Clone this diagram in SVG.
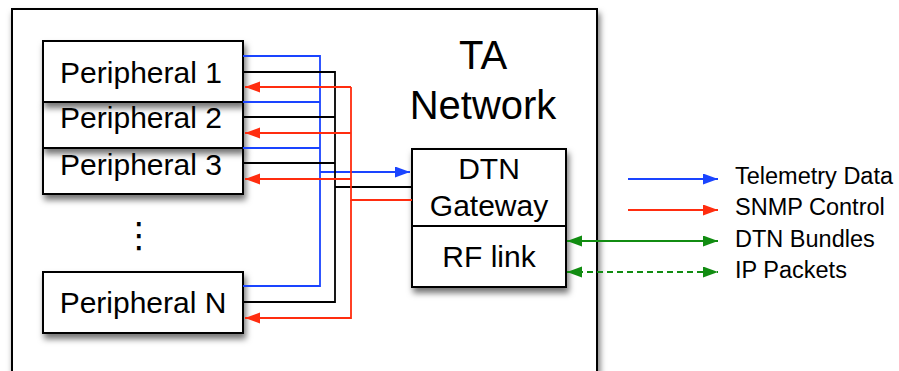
<svg xmlns="http://www.w3.org/2000/svg" width="899" height="371" viewBox="0 0 899 371">
<style>
.box{fill:#fff;stroke:#000;stroke-width:2}
.lbl{font-family:"Liberation Sans",Arial,Helvetica,sans-serif;fill:#000}
.big{font-size:30px;text-anchor:middle}
.ta{font-size:40px;text-anchor:middle}
.leg{font-size:23.5px}
.c{fill:none;stroke-width:1.8}
.b{stroke:#1a44ff}
.r{stroke:#ff2d0f}
.k{stroke:#000}
.g{stroke:#118c11}
</style>
<defs>
<filter id="sh" x="-20%" y="-20%" width="140%" height="160%">
<feDropShadow dx="2" dy="5" stdDeviation="3" flood-color="#000" flood-opacity="0.55"/>
</filter>
<marker id="ab" markerUnits="userSpaceOnUse" markerWidth="16" markerHeight="12" refX="15" refY="5.5" orient="auto-start-reverse"><path d="M0,0 L15,5.5 L0,11 z" fill="#1a44ff"/></marker>
<marker id="ar" markerUnits="userSpaceOnUse" markerWidth="16" markerHeight="12" refX="15" refY="5.5" orient="auto-start-reverse"><path d="M0,0 L15,5.5 L0,11 z" fill="#ff2d0f"/></marker>
<marker id="ag" markerUnits="userSpaceOnUse" markerWidth="16" markerHeight="12" refX="15" refY="5.5" orient="auto-start-reverse"><path d="M0,0 L15,5.5 L0,11 z" fill="#118c11"/></marker>
</defs>
<rect width="899" height="371" fill="#fff"/>
<g id="ta-network">
<rect class="box" x="12" y="9" width="585" height="400" filter="url(#sh)"/>
<text class="lbl ta" x="483" y="69">TA</text>
<text class="lbl ta" x="483" y="119">Network</text>
</g>
<g id="peripheral-3">
<rect class="box" x="43" y="148" width="200" height="46" filter="url(#sh)"/>
<text class="lbl big" x="141" y="175">Peripheral 3</text>
</g>
<g id="peripheral-2">
<rect class="box" x="43" y="102" width="200" height="46" filter="url(#sh)"/>
<text class="lbl big" x="141" y="128">Peripheral 2</text>
</g>
<g id="peripheral-1">
<rect class="box" x="43" y="41" width="200" height="61" filter="url(#sh)"/>
<text class="lbl big" x="141" y="83">Peripheral 1</text>
</g>
<g id="ellipsis">
<text font-family="'DejaVu Sans',sans-serif" font-size="35" text-anchor="middle" x="139" y="247">⋮</text>
</g>
<g id="peripheral-n">
<rect class="box" x="43" y="272" width="200" height="61" filter="url(#sh)"/>
<text class="lbl big" x="143" y="313">Peripheral N</text>
</g>
<g id="dtn-gateway">
<rect class="box" x="412" y="149" width="154" height="138" filter="url(#sh)"/>
<line x1="412" y1="226" x2="566" y2="226" stroke="#000" stroke-width="2"/>
<text class="lbl big" x="489" y="179">DTN</text>
<text class="lbl big" x="489" y="216">Gateway</text>
<text class="lbl big" x="489" y="267">RF link</text>
</g>
<g id="connectors">
<path class="c b" d="M243,56 H320 V286 H243 M243,102 H320 M243,148 H320"/>
<path class="c b" d="M320,172 H410" marker-end="url(#ab)"/>
<path class="c k" d="M243,72 H335 V302 H243 M243,117 H335 M243,163 H335 M335,187 H412"/>
<path class="c r" d="M412,200 H351 V87"/>
<path class="c r" d="M351,87 H245" marker-end="url(#ar)"/>
<path class="c r" d="M351,133 H245" marker-end="url(#ar)"/>
<path class="c r" d="M351,179 H245" marker-end="url(#ar)"/>
<path class="c r" d="M351,200 V318 H245" marker-end="url(#ar)"/>
<path class="c g" d="M567,241 H718" marker-start="url(#ag)" marker-end="url(#ag)"/>
<path class="c g" d="M567,272 H718" stroke-dasharray="6,4" marker-start="url(#ag)" marker-end="url(#ag)"/>
</g>
<g id="legend">
<path class="c b" d="M628,179 H718" marker-end="url(#ab)"/>
<path class="c r" d="M628,210 H718" marker-end="url(#ar)"/>
<text class="lbl leg" x="735" y="184">Telemetry Data</text>
<text class="lbl leg" x="735" y="215">SNMP Control</text>
<text class="lbl leg" x="735" y="247">DTN Bundles</text>
<text class="lbl leg" x="735" y="278">IP Packets</text>
</g>
</svg>
